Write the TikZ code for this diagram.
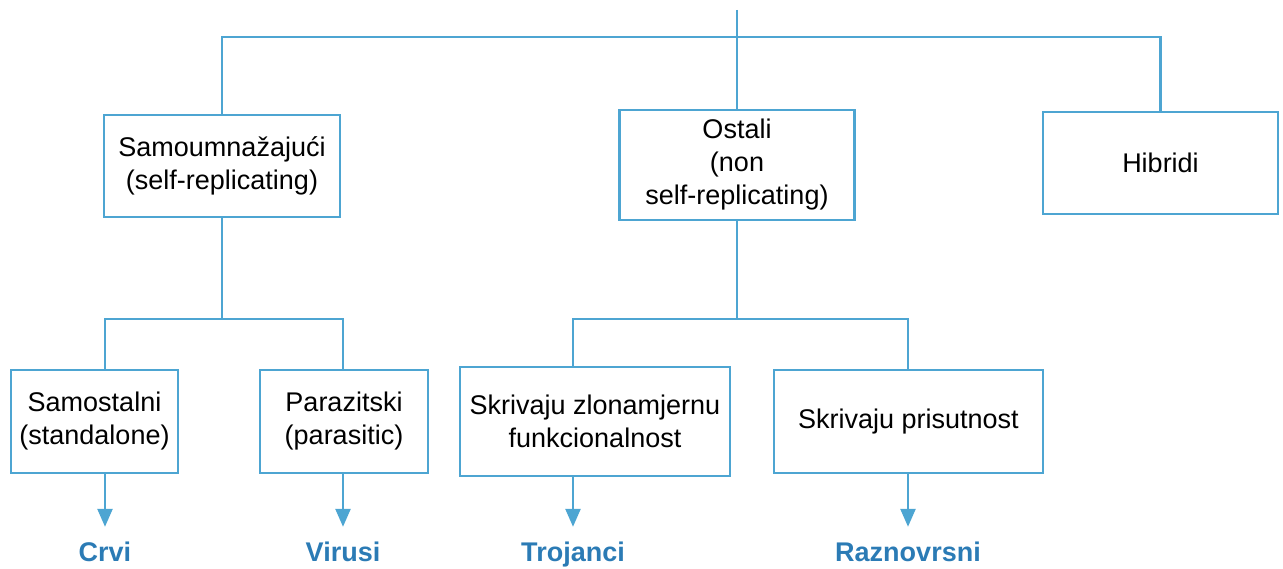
\documentclass[tikz,border=0pt]{standalone}
\usepackage{fontspec}
\setmainfont{Liberation Sans}
\usetikzlibrary{positioning}
\usetikzlibrary{arrows.meta}
\definecolor{treeblue}{HTML}{4DA5D2}
\definecolor{labelblue}{HTML}{2B7BB5}

\begin{document}
\begin{tikzpicture}[x=1pt,y=-1pt,
  box/.style={draw=treeblue,line width=2.5pt,align=center,inner sep=4pt,
    font=\fontsize{27}{33}\selectfont},
  link/.style={draw=treeblue,line width=2.5pt},
  arr/.style={link,-{Triangle[width=15pt,length=18pt]},shorten >=14pt},
  kind/.style={text=labelblue,anchor=base,inner sep=0pt,text height=20pt,
    font=\bfseries\fontsize{27}{33}\selectfont}]
\useasboundingbox (0,0) rectangle (1283,569);
% first level
\node[box,minimum width=236pt,minimum height=102pt] (selfrep) at (222,166) {Samoumnažajući\\(self-replicating)};
\node[box,minimum width=235pt,minimum height=110pt] (ostali) at (737,165) {Ostali\\(non\\self-replicating)};
\node[box,minimum width=235pt,minimum height=102pt] (hibridi) at (1160.5,163) {Hibridi};
% second level
\node[box,minimum width=167pt,minimum height=103pt] (samostalni) at (94.5,421.5) {Samostalni\\(standalone)};
\node[box,minimum width=168pt,minimum height=103pt] (parazitski) at (344,421.5) {Parazitski\\(parasitic)};
\node[box,minimum width=270pt,minimum height=109pt] (zlonamjerni) at (595,421.5) {Skrivaju zlonamjernu\\funkcionalnost};
\node[box,minimum width=269pt,minimum height=103pt] (prisutnost) at (908.5,421.5) {Skrivaju prisutnost};
% kinds
\node[kind] (crvi) at (105,561) {Crvi};
\node[kind] (virusi) at (343,561) {Virusi};
\node[kind] (trojanci) at (573,561) {Trojanci};
\node[kind] (raznovrsni) at (908,561) {Raznovrsni};

\coordinate (root) at (737,10);
\coordinate (hub) at (737,37);
\coordinate (fork1) at (222,319);
\coordinate (fork2) at (737,319);

\draw[link] (root) -- (hub) -- (ostali.north);
\draw[link] (selfrep.north) |- (hibridi.north |- hub) -- (hibridi.north);

\draw[link] (selfrep.south) -- (fork1);
\draw[link] (crvi |- samostalni.north) |- (fork1) -| (virusi |- parazitski.north);
\draw[link] (ostali.south) -- (fork2);
\draw[link] (trojanci |- zlonamjerni.north) |- (fork2) -| (raznovrsni |- prisutnost.north);

\foreach \k/\b in {crvi/samostalni,virusi/parazitski,trojanci/zlonamjerni,raznovrsni/prisutnost}
  \draw[arr] (\k |- \b.south) -- (\k.north);
\end{tikzpicture}
\end{document}
